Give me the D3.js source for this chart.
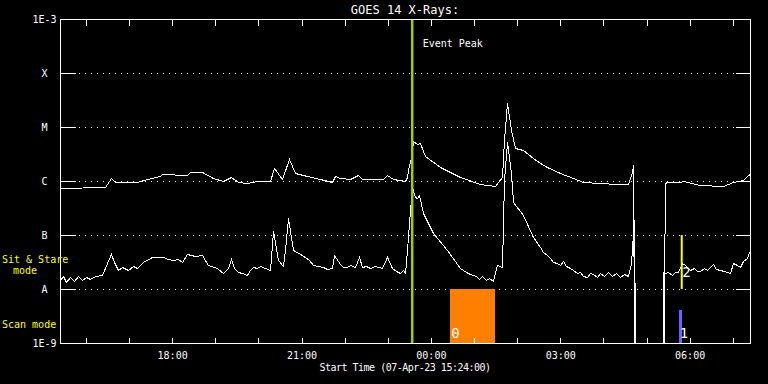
<!DOCTYPE html>
<html>
<head>
<meta charset="utf-8">
<script src="https://cdn.jsdelivr.net/npm/d3@7"></script>
<style>
  body { margin: 0; background: #000; }
  svg { display: block; background: #000; font-family: 'DejaVu Sans Mono', monospace; }
</style>
</head>
<body>
<svg id="chart" width="768" height="384"></svg>
<script>
'use strict';

// Time axis: 16 hours from the start time
const startTime = new Date(2023, 3, 7, 15, 24, 0),
  spanHours = 16,
  labelledHours = [18, 21, 0, 3, 6];

// Flux levels (W/m^2) and their class labels
const levelFlux = [1e-3, 1e-4, 1e-5, 1e-6, 1e-7, 1e-8, 1e-9],
  levelLabels = ['1E-3', 'X', 'M', 'C', 'B', 'A', '1E-9'];

// Long channel (1-8 A): [minutes after start, flux]
const xrsLong = [
  [0, 7.3e-7], [62.6, 7.8e-7], [71.0, 1.12e-6], [76.5, 9.5e-7], [107.1, 9.6e-7],
  [121.0, 1.09e-6], [139.1, 1.24e-6], [141.9, 1.33e-6], [176.7, 1.29e-6], [180.9, 1.45e-6],
  [197.6, 1.45e-6], [212.9, 1.15e-6], [226.8, 9.9e-7], [237.9, 1.17e-6], [247.7, 9.7e-7],
  [260.2, 9.1e-7], [274.1, 1.0e-6], [292.2, 1.0e-6], [297.8, 1.72e-6], [308.9, 1.09e-6],
  [318.2, 2.52e-6], [327.4, 1.39e-6], [344.1, 1.24e-6], [362.3, 1.08e-6], [378.0, 9.7e-7],
  [382.6, 1.24e-6], [389.6, 1.12e-6], [403.5, 1.08e-6], [415.0, 1.29e-6], [419.8, 1.08e-6],
  [449.8, 1.08e-6], [455.4, 1.29e-6], [463.7, 1.08e-6], [480.0, 1.0e-6], [482.4, 1.2e-6],
  [486.0, 1.98e-6], [487.9, 2.63e-6], [491.5, 5.5e-6], [496.3, 4.84e-6], [500.9, 4.99e-6],
  [507.8, 2.9e-6], [528.7, 1.84e-6], [556.5, 1.2e-6], [584.3, 8.8e-7], [605.2, 8.1e-7],
  [609.8, 9.7e-7], [614.5, 1.2e-6], [617.7, 5.74e-6], [622.3, 2.82e-5], [627.1, 8.8e-6],
  [633.0, 4.03e-6], [644.6, 3.75e-6], [658.5, 2.63e-6], [667.8, 2.13e-6], [677.1, 1.79e-6],
  [695.7, 1.39e-6], [714.1, 1.12e-6], [728.1, 9.5e-7], [751.3, 9.1e-7], [774.5, 8.7e-7],
  [790.7, 8.7e-7], [795.4, 1.49e-6], [797.6, 1.98e-6], [799.0, 1e-10], [840.0, 1e-10],
  [840.6, 1.09e-8], [841.2, 9.2e-7], [844.1, 9.7e-7], [862.6, 9.5e-7], [867.2, 1.0e-6],
  [890.4, 8.4e-7], [922.8, 8.2e-7], [936.8, 9.7e-7], [950.7, 1.04e-6], [957.6, 1.29e-6],
  [960, 1.35e-6],
];

// Short channel (0.5-4 A): [minutes after start, flux]
const xrsShort = [
  [0, 1.47e-8], [4.2, 1.74e-8], [8.3, 1.35e-8], [13.9, 1.67e-8], [19.5, 1.41e-8],
  [25.0, 1.74e-8], [30.6, 1.47e-8], [36.2, 1.67e-8], [41.7, 1.53e-8], [48.7, 1.74e-8],
  [58.4, 1.82e-8], [65.4, 3.03e-8], [70.5, 4.39e-8], [75.1, 3.16e-8], [80.7, 2.25e-8],
  [86.3, 2.55e-8], [94.6, 2.25e-8], [101.6, 2.67e-8], [107.1, 2.42e-8], [115.5, 3.2e-8],
  [128.0, 3.96e-8], [135.0, 3.91e-8], [143.3, 3.86e-8], [150.3, 3.59e-8], [157.2, 3.44e-8],
  [164.2, 3.59e-8], [169.7, 3.2e-8], [176.7, 4.45e-8], [187.8, 4.17e-8], [197.6, 4.26e-8],
  [205.9, 2.78e-8], [218.4, 2.42e-8], [226.8, 1.95e-8], [233.7, 2.45e-8], [237.9, 3.55e-8],
  [242.1, 2.45e-8], [247.7, 2.09e-8], [253.2, 1.98e-8], [260.2, 1.82e-8], [264.3, 2.25e-8],
  [268.5, 2.59e-8], [274.1, 2.45e-8], [278.3, 2.67e-8], [285.2, 2.45e-8], [292.2, 2.25e-8],
  [296.8, 1.2e-7], [303.3, 3.44e-8], [309.9, 2.67e-8], [313.0, 5.27e-8], [317.6, 2.04e-7],
  [324.2, 5.27e-8], [336.7, 4.26e-8], [346.4, 3.44e-8], [352.4, 2.78e-8], [359.0, 2.67e-8],
  [366.3, 2.52e-8], [371.5, 2.35e-8], [378.0, 2.42e-8], [381.6, 4.26e-8], [389.6, 2.9e-8],
  [393.7, 2.55e-8], [398.9, 2.52e-8], [403.5, 2.78e-8], [410.4, 2.52e-8], [415.6, 3.86e-8],
  [419.8, 2.52e-8], [425.7, 2.67e-8], [431.3, 2.42e-8], [438.3, 2.67e-8], [447.6, 2.42e-8],
  [454.5, 3.86e-8], [461.5, 2.42e-8], [467.5, 2.15e-8], [473.1, 2.0e-8], [477.2, 2.25e-8],
  [480.0, 2.0e-8], [483.2, 5.27e-8], [486.0, 1.65e-7], [489.3, 7.84e-7], [493.9, 5.12e-7],
  [496.7, 4.84e-7], [499.9, 5.5e-7], [505.5, 2.52e-7], [519.4, 1.08e-7], [538.0, 5.27e-8],
  [556.5, 2.42e-8], [564.9, 2.06e-8], [570.4, 1.9e-8], [575.0, 1.82e-8], [578.8, 1.74e-8],
  [582.9, 1.53e-8], [587.1, 1.74e-8], [592.7, 1.47e-8], [596.9, 1.6e-8], [602.8, 1.41e-8],
  [607.6, 2.78e-8], [614.5, 2.59e-8], [617.7, 1.04e-6], [621.5, 5.34e-6], [627.1, 1.39e-6],
  [630.7, 4.14e-7], [644.6, 2.35e-7], [658.5, 9.3e-8], [667.8, 6.07e-8], [672.0, 4.84e-8],
  [677.1, 4.26e-8], [681.7, 3.75e-8], [685.9, 3.16e-8], [691.0, 2.99e-8], [695.7, 2.78e-8],
  [700.2, 3.34e-8], [704.0, 2.67e-8], [709.6, 2.42e-8], [713.7, 2.25e-8], [718.9, 1.95e-8],
  [723.5, 2.06e-8], [727.7, 1.74e-8], [732.8, 1.69e-8], [737.4, 1.98e-8], [742.0, 1.9e-8],
  [747.1, 1.67e-8], [751.3, 1.98e-8], [756.9, 1.74e-8], [762.4, 2.06e-8], [768.0, 1.74e-8],
  [773.6, 1.98e-8], [779.1, 1.67e-8], [784.7, 1.9e-8], [790.7, 1.74e-8], [794.0, 2.99e-8],
  [796.8, 1.08e-7], [798.6, 1.9e-7], [799.5, 1e-10], [838.4, 1e-10], [839.0, 2.09e-8],
  [841.8, 1.95e-8], [846.0, 2.06e-8], [851.1, 1.82e-8], [855.7, 2.06e-8], [860.3, 2.09e-8],
  [865.1, 2.99e-8], [869.6, 2.78e-8], [873.8, 2.45e-8], [876.5, 2.25e-8], [882.1, 2.45e-8],
  [886.3, 2.15e-8], [890.4, 2.18e-8], [896.0, 2.45e-8], [900.2, 2.25e-8], [904.3, 2.52e-8],
  [908.5, 2.9e-8], [912.7, 2.35e-8], [918.3, 2.25e-8], [923.8, 2.15e-8], [928.0, 2.06e-8],
  [932.2, 1.95e-8], [936.8, 2.99e-8], [942.0, 2.78e-8], [946.1, 2.59e-8], [950.2, 3.3e-8],
  [955.4, 3.7e-8], [959.0, 4.9e-8],
];

// Event peak and observation windows (minutes after start)
const eventPeakMin = 490;
const scanStart = [543, 861],
  scanEnd = [605, 865],
  scanTopFlux = [1e-8, 4.1e-9],
  scanLabels = ['0', '1'],
  scanColors = ['#ff8000', '#6464ff'];
const stareMin = [865],
  stareTopFlux = [1e-7],
  stareBottomFlux = [1e-8],
  stareLabels = ['2'];

const W = 768,
  H = 384,
  margin = { left: 60, right: 18, top: 19, bottom: 41 },
  svg = d3.select('#chart'),
  minToDate = m => new Date(startTime.getTime() + m * 60000);

const x = d3
    .scaleTime()
    .domain([startTime, d3.timeHour.offset(startTime, spanHours)])
    .range([margin.left, W - margin.right]),
  y = d3
    .scaleLog()
    .domain([1e-9, 1e-3])
    .range([H - margin.bottom, margin.top])
    .clamp(true);

const x0 = margin.left,
  x1 = W - margin.right,
  y0 = margin.top,
  y1 = H - margin.bottom;

// Dotted grid lines at the class levels
svg
  .append('g')
  .selectAll('line')
  .data(levelFlux.slice(1, -1))
  .join('line')
  .attr('x1', x0 + 19)
  .attr('x2', x1 - 16)
  .attr('y1', d => Math.round(y(d)) + 0.5)
  .attr('y2', d => Math.round(y(d)) + 0.5)
  .attr('stroke', '#fff')
  .attr('stroke-dasharray', '1,5')
  .attr('shape-rendering', 'crispEdges');

// Data lines (aliased, like the original plot)
const line = d3
  .line()
  .x(d => Math.round(x(minToDate(d[0]))) + 0.5)
  .y(d => Math.round(y(d[1])) + 0.5);

[xrsLong, xrsShort].forEach(series =>
  svg
    .append('path')
    .datum(series)
    .attr('d', line)
    .attr('fill', 'none')
    .attr('stroke', '#fff')
    .attr('stroke-width', 1)
    .attr('shape-rendering', 'crispEdges')
);

// Scan mode windows
const scans = scanStart.map((s, i) => ({
  start: s,
  end: scanEnd[i],
  top: scanTopFlux[i],
  label: scanLabels[i],
  color: scanColors[i],
}));
svg
  .append('g')
  .selectAll('rect')
  .data(scans)
  .join('rect')
  .attr('x', d => x(minToDate(d.start)))
  .attr('width', d => x(minToDate(d.end)) - x(minToDate(d.start)))
  .attr('y', d => y(d.top))
  .attr('height', d => y1 - y(d.top))
  .attr('fill', d => d.color)
  .attr('shape-rendering', 'crispEdges');
svg
  .append('g')
  .selectAll('text')
  .data(scans)
  .join('text')
  .attr('x', d => x(minToDate(d.start)) + 1)
  .attr('y', y1 - 5)
  .attr('fill', '#fff')
  .attr('font-size', 14)
  .text(d => d.label);

// Sit & Stare marks
const stares = stareMin.map((m, i) => ({
  t: m,
  top: stareTopFlux[i],
  bottom: stareBottomFlux[i],
  label: stareLabels[i],
}));
svg
  .append('g')
  .selectAll('line')
  .data(stares)
  .join('line')
  .attr('x1', d => x(minToDate(d.t)))
  .attr('x2', d => x(minToDate(d.t)))
  .attr('y1', d => y(d.top))
  .attr('y2', d => y(d.bottom))
  .attr('stroke', '#ffff00')
  .attr('stroke-width', 2);
svg
  .append('g')
  .selectAll('text')
  .data(stares)
  .join('text')
  .attr('x', d => x(minToDate(d.t)) + 0.5)
  .attr('y', d => y(d.bottom) - 12)
  .attr('fill', '#fff')
  .attr('font-size', 14)
  .text(d => d.label);

// Event peak line
const peakX = x(minToDate(eventPeakMin));
svg
  .append('line')
  .attr('x1', peakX)
  .attr('x2', peakX)
  .attr('y1', y0)
  .attr('y2', y1)
  .attr('stroke', '#a0d000')
  .attr('stroke-width', 2.5);
svg
  .append('text')
  .attr('x', peakX + 10.5)
  .attr('y', 47)
  .attr('fill', '#fff')
  .attr('font-size', 10)
  .text('Event Peak');

// Frame
svg
  .append('rect')
  .attr('x', x0 + 0.5)
  .attr('y', y0 + 0.5)
  .attr('width', x1 - x0)
  .attr('height', y1 - y0)
  .attr('fill', 'none')
  .attr('stroke', '#fff')
  .attr('shape-rendering', 'crispEdges');

// Axes
const hours = x.ticks(d3.timeHour.every(1)),
  fmt = d3.timeFormat('%H:%M');

function styleAxis(g) {
  g.select('.domain').remove();
  g.selectAll('line').attr('stroke', '#fff').attr('shape-rendering', 'crispEdges');
  g.selectAll('text').attr('fill', '#fff');
  g.attr('font-family', null).attr('font-size', 10);
}

svg
  .append('g')
  .attr('transform', `translate(0,${y1 + 0.5})`)
  .call(
    d3
      .axisBottom(x)
      .tickValues(hours)
      .tickSizeInner(-6)
      .tickSizeOuter(0)
      .tickPadding(8)
      .tickFormat(d => (labelledHours.includes(d.getHours()) ? fmt(d) : ''))
  )
  .call(styleAxis);

svg
  .append('g')
  .attr('transform', `translate(0,${y0 + 0.5})`)
  .call(
    d3.axisTop(x).tickValues(hours).tickSizeInner(-6).tickSizeOuter(0).tickFormat('')
  )
  .call(styleAxis);

svg
  .append('g')
  .attr('transform', `translate(${x0 + 0.5},0)`)
  .call(
    d3
      .axisLeft(y)
      .tickValues(levelFlux)
      .tickSizeInner(-15)
      .tickSizeOuter(0)
      .tickFormat((d, i) => levelLabels[i])
  )
  .call(styleAxis)
  .call(g => g.selectAll('text').attr('x', -16).attr('text-anchor', 'middle'));

svg
  .append('g')
  .attr('transform', `translate(${x1 + 0.5},0)`)
  .call(
    d3.axisRight(y).tickValues(levelFlux).tickSizeInner(-15).tickSizeOuter(0).tickFormat('')
  )
  .call(styleAxis);

// Titles
svg
  .append('text')
  .attr('x', (x0 + x1) / 2)
  .attr('y', 14)
  .attr('text-anchor', 'middle')
  .attr('fill', '#fff')
  .attr('font-size', 12)
  .text('GOES 14 X-Rays:');

svg
  .append('text')
  .attr('x', (x0 + x1) / 2)
  .attr('y', 371)
  .attr('text-anchor', 'middle')
  .attr('fill', '#fff')
  .attr('font-size', 10)
  .attr('letter-spacing', -0.5)
  .text('Start Time (07-Apr-23 15:24:00)');

// Mode labels
const modeLabels = [
  { text: 'Sit & Stare', x: 2, y: 263 },
  { text: 'mode', x: 13, y: 274 },
  { text: 'Scan mode', x: 2, y: 328 },
];
svg
  .append('g')
  .selectAll('text')
  .data(modeLabels)
  .join('text')
  .attr('x', d => d.x)
  .attr('y', d => d.y)
  .attr('fill', '#ffff00')
  .attr('font-size', 10)
  .text(d => d.text);
</script>
</body>
</html>
